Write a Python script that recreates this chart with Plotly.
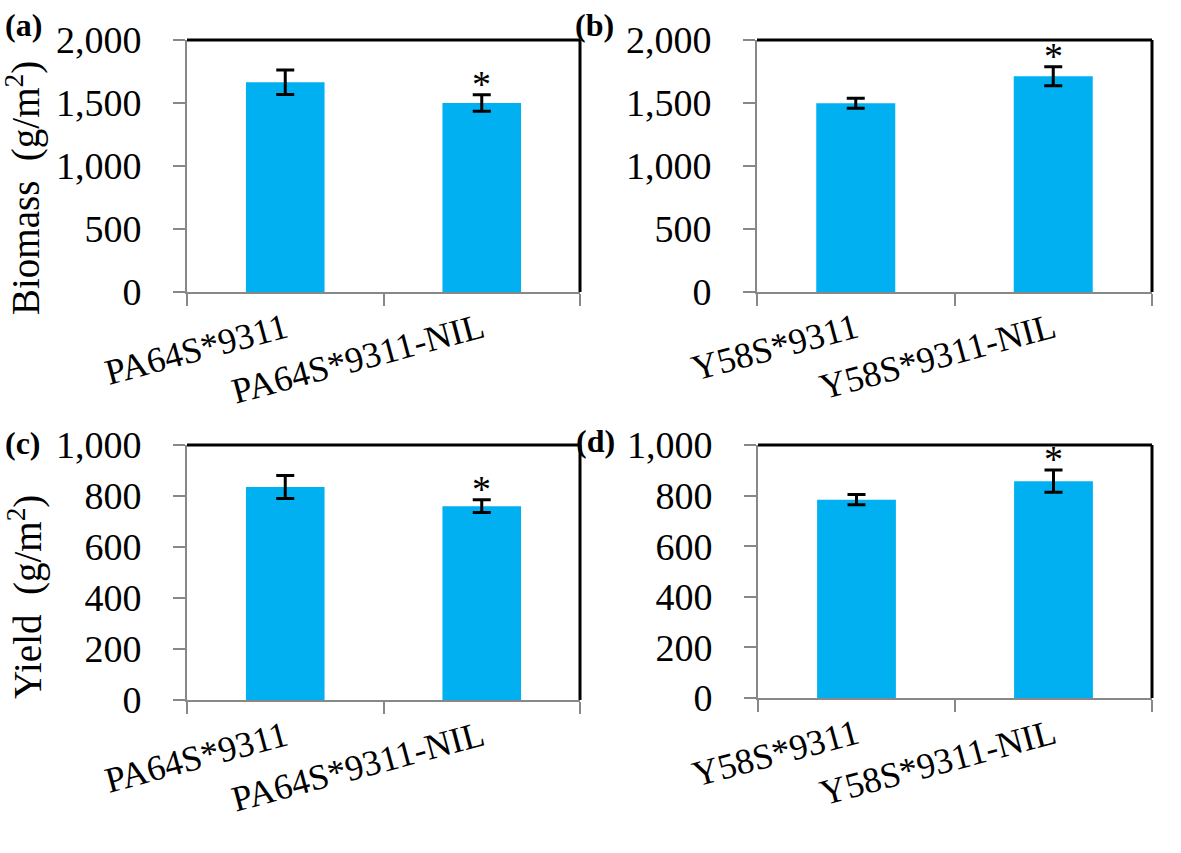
import plotly.graph_objects as go

# Values
pa_lines = ['PA64S*9311', 'PA64S*9311-NIL']
y58_lines = ['Y58S*9311', 'Y58S*9311-NIL']

biomass_pa = [1665, 1500]
biomass_pa_err = [97, 65]
biomass_y58 = [1498, 1712]
biomass_y58_err = [40, 75]

yield_pa = [835, 760]
yield_pa_err = [45, 25]
yield_y58 = [784, 857]
yield_y58_err = [20, 44]

# which bar in each panel carries the significance star
star_index = 1

W, H = 1181, 853
BAR_COLOR = '#00B0F0'
AXIS_GREY = '#888888'
FONT = 'Liberation Serif'


def fx(px):
    # pixel from the left -> paper fraction
    return px / W


def fy(px):
    # pixel from the top -> paper fraction
    return 1 - px / H


panels = [
    # name, categories, values, errors, ymax, dtick, left, right, top, bottom, label, label y
    ('1', pa_lines, biomass_pa, biomass_pa_err, 2000, 500, 187, 580, 40, 292, '(a)', 25),
    ('2', y58_lines, biomass_y58, biomass_y58_err, 2000, 500, 757, 1152, 40, 292, '(b)', 25),
    ('3', pa_lines, yield_pa, yield_pa_err, 1000, 200, 187, 580, 445, 700, '(c)', 443),
    ('4', y58_lines, yield_y58, yield_y58_err, 1000, 200, 758, 1152, 445, 698, '(d)', 441),
]

fig = go.Figure()
annotations = []
shapes = []

for name, cats, vals, errs, ymax, dtick, left, right, top, bottom, label, label_y in panels:
    xa = 'x' if name == '1' else 'x' + name
    ya = 'y' if name == '1' else 'y' + name
    fig.add_trace(go.Bar(
        x=cats, y=vals, width=0.4,
        marker=dict(color=BAR_COLOR, line=dict(width=0)),
        error_y=dict(type='data', array=errs, color='black', thickness=3, width=9),
        xaxis=xa, yaxis=ya, showlegend=False,
    ))

    fig.layout['xaxis' if name == '1' else 'xaxis' + name] = dict(
        domain=[fx(left), fx(right)], anchor=ya, type='category', range=[-0.5, 1.5],
        tickson='boundaries', ticks='outside', ticklen=12, tickwidth=2, tickcolor=AXIS_GREY,
        showline=True, linecolor=AXIS_GREY, linewidth=2, showgrid=False,
        tickangle=-15, tickfont=dict(family=FONT, size=36, color='black'),
        automargin=False,
    )
    fig.layout['yaxis' if name == '1' else 'yaxis' + name] = dict(
        domain=[fy(bottom), fy(top)], anchor=xa, range=[0, ymax], dtick=dtick, tickformat=',',
        ticks='outside', ticklen=12, tickwidth=2, tickcolor=AXIS_GREY,
        showline=True, linecolor=AXIS_GREY, linewidth=2, showgrid=False, zeroline=False,
        tickfont=dict(family=FONT, size=38, color='black'), ticklabelstandoff=24,
        automargin=False,
    )

    # black frame on top and right, as in the original
    for x0, x1, y0, y1 in [(0, 1, 1, 1), (1, 1, 0, 1)]:
        shapes.append(dict(type='line', xref=xa + ' domain', yref=ya + ' domain',
                           x0=x0, x1=x1, y0=y0, y1=y1, line=dict(color='black', width=3)))

    # significance star above the marked bar's error bar
    annotations.append(dict(
        x=cats[star_index], y=vals[star_index] + errs[star_index], xref=xa, yref=ya,
        text='*', showarrow=False, yanchor='bottom', yshift=-12,
        font=dict(family=FONT, size=38, color='black'),
    ))

    # panel letter
    annotations.append(dict(
        x=fx(left - 184), y=fy(label_y), xref='paper', yref='paper',
        text='<b>' + label + '</b>', showarrow=False, xanchor='left', yanchor='middle',
        font=dict(family=FONT, size=32, color='black'),
    ))

# y axis titles
annotations.append(dict(x=fx(23), y=fy(188), xref='paper', yref='paper',
                        xanchor='center', yanchor='middle',
                        text='Biomass  (g/m<sup>2</sup>)', textangle=-90, showarrow=False,
                        font=dict(family=FONT, size=39, color='black')))
annotations.append(dict(x=fx(25), y=fy(597), xref='paper', yref='paper',
                        xanchor='center', yanchor='middle',
                        text='Yield  (g/m<sup>2</sup>)', textangle=-90, showarrow=False,
                        font=dict(family=FONT, size=39, color='black')))

fig.update_layout(
    width=W, height=H,
    margin=dict(l=0, r=0, t=0, b=0),
    paper_bgcolor='white', plot_bgcolor='white',
    annotations=annotations, shapes=shapes,
    font=dict(family=FONT, color='black'),
)

# drop the browser's default body margin so the figure fills the window exactly
fig.write_html('out.html', config={'displayModeBar': False},
               post_script="document.body.style.margin = '0';")
